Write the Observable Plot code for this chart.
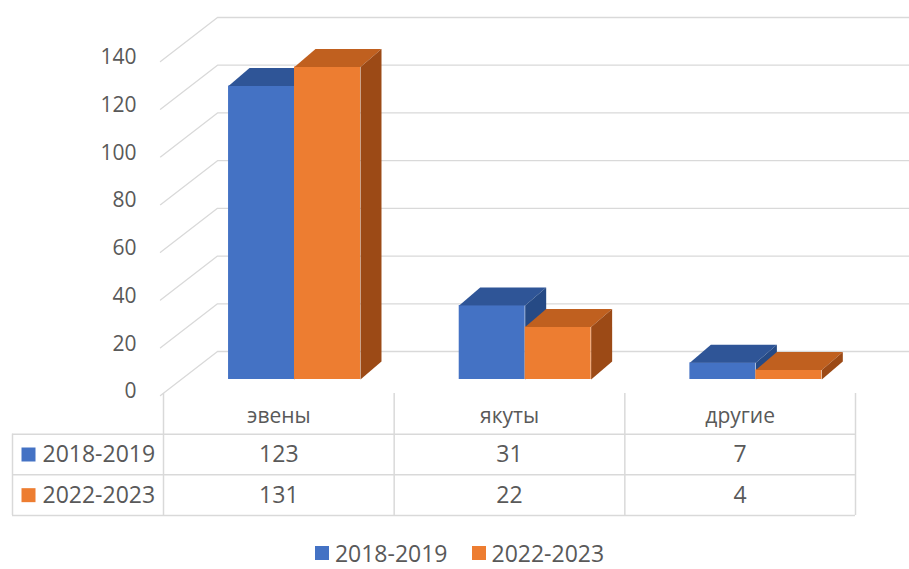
<!DOCTYPE html>
<html>
<head>
<meta charset="utf-8">
<script src="https://cdn.jsdelivr.net/npm/d3@7"></script>
<script src="https://cdn.jsdelivr.net/npm/@observablehq/plot@0.6"></script>
<style>
  html, body { margin: 0; padding: 0; background: #fff; }
  #wrap { position: relative; width: 909px; height: 569px; overflow: hidden; font-family: "Open Sans", sans-serif; }
  #main, #table { position: absolute; left: 0; }
  #main { top: 0; }
  #table { top: 392px; }
  #legend { position: absolute; top: 537px; left: 0; width: 909px; display: flex; justify-content: center; gap: 24px; padding-left: 10px; box-sizing: border-box; color: #595959; font-size: 23px; line-height: 32px; }
  #legend .item { display: flex; align-items: center; }
  #legend .sw { width: 14px; height: 14px; margin-right: 6px; display: inline-block; }
</style>
</head>
<body>
<div id="wrap">
  <div id="main"></div>
  <div id="table"></div>
  <div id="legend"></div>
</div>
<script>
// ---- data ----
const categories = ["эвены", "якуты", "другие"];
const seriesNames = ["2018-2019", "2022-2023"];
const values2018 = [123, 31, 7];
const values2022 = [131, 22, 4];
const yTicks = [0, 20, 40, 60, 80, 100, 120, 140];

// ---- styles ----
const frontColors = ["#4472C4", "#ED7D31"];
const topColors = ["#2F5597", "#C0601F"];
const sideColors = ["#264A85", "#9C4A16"];
const gridColor = "#D9D9D9";
const textColor = "#595959";
const font = "'Open Sans', sans-serif";

// ---- geometry (in scale units) ----
const cellPx = 230.67;              // pixels per category column
const xLeftPx = 163;
const toX = p => (p - xLeftPx) / cellPx;
const yRange = [379, 45];
const pxPerUnit = (yRange[0] - yRange[1]) / 140;
const barOffset = 0.282, barWidth = 0.286;
const depthX = 21 / cellPx, depthY = 18 / pxPerUnit;
const wallFrontX = toX(160), wallBackX = toX(217), wallRightX = toX(912);
const wallFrontDy = -16 / pxPerUnit, wallBackDy = 28 / pxPerUnit;

const valuesBySeries = [values2018, values2022];
const bars = [];
seriesNames.forEach((s, j) => categories.forEach((c, i) => {
  const v = valuesBySeries[j][i];
  const x1 = i + barOffset + j * barWidth, x2 = x1 + barWidth;
  bars.push({s, j, c, i, v, x1, x2});
}));

const grid = yTicks.flatMap(v => [
  {v, x: wallFrontX, y: v + wallFrontDy},
  {v, x: wallBackX, y: v + wallBackDy},
  {v, x: wallRightX, y: v + wallBackDy}
]);

function tops(j) {
  return bars.filter(b => b.j === j).flatMap(b => [
    {k: b.i, x: b.x1, y: b.v},
    {k: b.i, x: b.x2, y: b.v},
    {k: b.i, x: b.x2 + depthX, y: b.v + depthY},
    {k: b.i, x: b.x1 + depthX, y: b.v + depthY}
  ]);
}
function sides(j) {
  return bars.filter(b => b.j === j).flatMap(b => [
    {k: b.i, x: b.x2, y: 0},
    {k: b.i, x: b.x2 + depthX, y: depthY},
    {k: b.i, x: b.x2 + depthX, y: b.v + depthY},
    {k: b.i, x: b.x2, y: b.v}
  ]);
}

const barMarks = [];
[0, 1].forEach(j => {
  barMarks.push(Plot.rect(bars.filter(b => b.j === j), {x1: "x1", x2: "x2", y1: 0, y2: "v", fill: frontColors[j]}));
  barMarks.push(Plot.line(tops(j), {x: "x", y: "y", z: "k", fill: topColors[j], stroke: "none", curve: "linear-closed"}));
  barMarks.push(Plot.line(sides(j), {x: "x", y: "y", z: "k", fill: sideColors[j], stroke: "none", curve: "linear-closed"}));
});

const main = Plot.plot({
  width: 909, height: 400, margin: 0,
  x: {type: "linear", domain: [0, 3], range: [163, 855], axis: null},
  y: {domain: [0, 140], range: yRange, axis: null},
  style: {background: "transparent", fontFamily: font, color: textColor, overflow: "visible"},
  marks: [
    Plot.line(grid, {x: "x", y: "y", z: "v", stroke: gridColor, strokeWidth: 1.3}),
    Plot.text(yTicks, {x: wallFrontX, y: d => d, dx: -24, dy: 12, text: d => String(d), textAnchor: "end", fontSize: 21, fill: textColor}),
    ...barMarks
  ]
});
document.getElementById("main").append(main);

// ---- data table ----
const rowLabelX = toX(42), tableLeftX = toX(12), swatchX = toX(28);
const cells = bars.map(b => ({x: b.i + 0.5, y: b.j + 1.5, t: String(b.v)}));
const table = Plot.plot({
  width: 909, height: 126, margin: 0,
  x: {type: "linear", domain: [0, 3], range: [163, 855], axis: null},
  y: {domain: [0, 3], range: [1, 123], axis: null},
  style: {background: "transparent", fontFamily: font, color: textColor, overflow: "visible"},
  marks: [
    Plot.ruleX([0, 1, 2, 3], {y1: 0, y2: 3, stroke: gridColor, strokeWidth: 1.5}),
    Plot.ruleX([tableLeftX], {y1: 1, y2: 3, stroke: gridColor, strokeWidth: 1.5}),
    Plot.ruleY([1, 2, 3], {x1: tableLeftX, x2: 3, stroke: gridColor, strokeWidth: 1.5}),
    Plot.text(categories, {x: (d, i) => i + 0.5, y: 0.55, text: d => d, fontSize: 21, fill: textColor}),
    Plot.text(cells, {x: "x", y: "y", text: "t", fontSize: 23, fill: textColor}),
    Plot.dot(seriesNames, {x: swatchX, y: (d, j) => j + 1.5, symbol: "square", r: 7.9, fill: (d, j) => frontColors[j], stroke: "none"}),
    Plot.text(seriesNames, {x: rowLabelX, y: (d, j) => j + 1.5, text: d => d, textAnchor: "start", fontSize: 23, fill: textColor})
  ]
});
document.getElementById("table").append(table);

// ---- legend ----
const legend = document.getElementById("legend");
seriesNames.forEach((s, j) => {
  const it = document.createElement("div");
  it.className = "item";
  const sw = document.createElement("span");
  sw.className = "sw";
  sw.style.background = frontColors[j];
  it.append(sw, document.createTextNode(s));
  legend.append(it);
});
</script>
</body>
</html>
